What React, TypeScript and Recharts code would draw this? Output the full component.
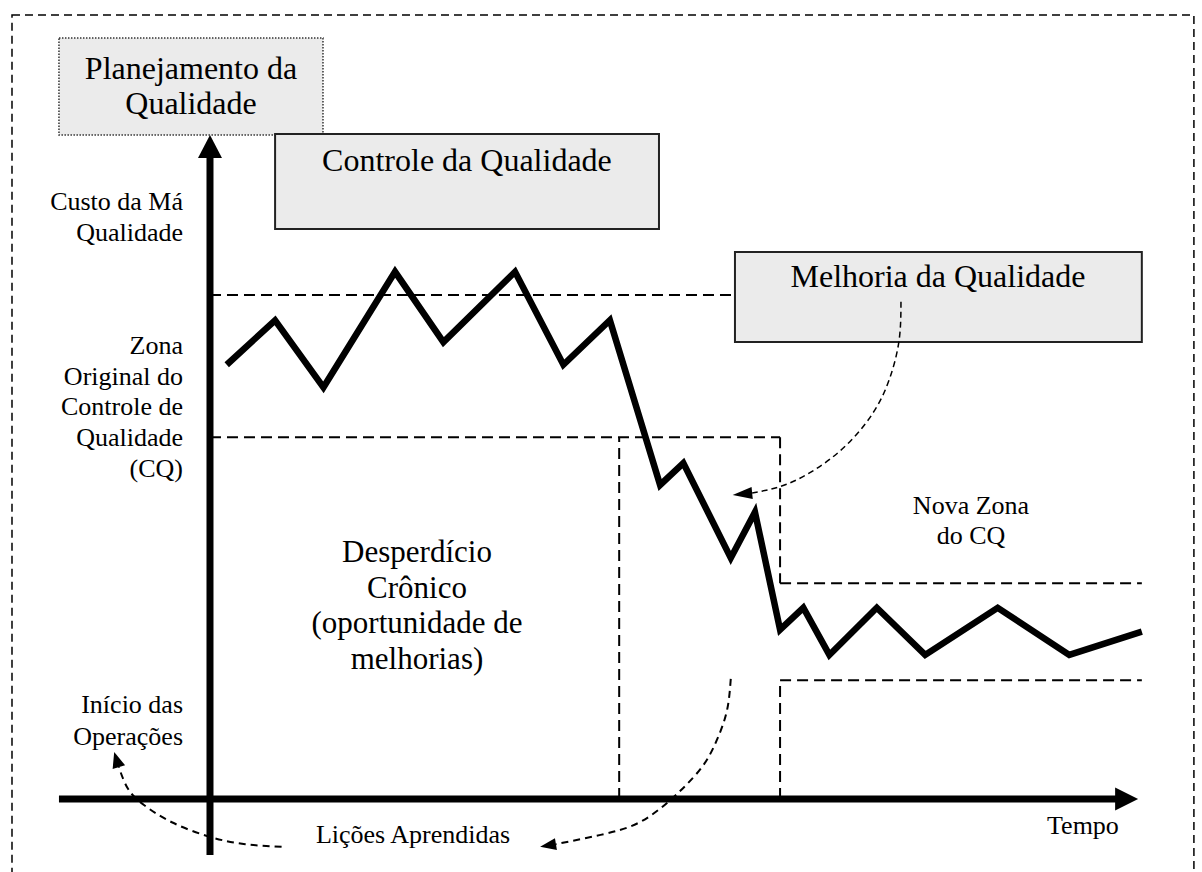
import React from 'react';
import { LineChart, Line, XAxis, YAxis, ReferenceLine, ReferenceArea, ReferenceDot } from 'recharts';

const W = 1202;
const H = 872;
const FONT = "'Liberation Serif', 'Times New Roman', serif";

// Value domains: time 0 at the cost axis, cost 0 at the time axis
const X_DOMAIN: [number, number] = [-22.58, 106.67];
const Y_DOMAIN: [number, number] = [-10.99, 120.33];

// Cost of poor quality over time
const timePoints = [1.8, 7.0, 12.2, 19.9, 25.1, 32.8, 38.0, 43.0, 48.4, 50.9, 56.0, 58.6, 61.3, 63.8, 66.6, 71.7, 76.9, 84.7, 92.4, 100.2];
const costValues = [65.4, 72.1, 62.0, 79.4, 68.8, 79.4, 65.4, 72.1, 47.3, 50.6, 36.3, 43.2, 25.5, 28.8, 21.7, 28.8, 21.7, 28.8, 21.7, 25.2];

// Control zones
const originalUpper = 75.9;
const originalLower = 54.5;
const newUpper = 32.5;
const newLower = 17.9;
const improvementStart = 44.0;
const improvementEnd = 61.3;
const upperLimitEnd = 56.45;
const timeEnd = 100.2;

// Curved arrows
const improvementT = [74.3, 74.1, 73.1, 71.5, 69.0, 65.8, 62.0, 58.3];
const improvementC = [74.9, 69.1, 63.4, 58.6, 54.1, 50.3, 47.4, 46.1];
const improvementTip = { t: 56.2, c: 45.8 };

const lessonsT = [56.0, 55.6, 54.6, 53.2, 51.4, 49.5, 46.2, 42.0, 37.2];
const lessonsC = [18.1, 13.4, 9.2, 5.4, 2.4, -0.15, -3.5, -5.4, -6.8];
const lessonsTip = { t: 35.5, c: -7.2 };

const startT = [7.7, 3.8, 0, -4.1, -7.1, -8.8, -9.8];
const startC = [-7.2, -6.8, -5.7, -3.5, -0.9, 1.5, 4.8];
const startTip = { t: -10.3, c: 7.1 };

const zip = (ts: number[], cs: number[]) => ts.map((t, i) => ({ t, c: cs[i] }));
const costData = zip(timePoints, costValues);
const improvementCurve = zip(improvementT, improvementC);
const lessonsCurve = zip(lessonsT, lessonsC);
const startCurve = zip(startT, startC);

const arrowShape = (shaft: number, len: number, half: number) => (p: any) => {
  const { x1, y1, x2, y2 } = p;
  const dx = x2 - x1;
  const dy = y2 - y1;
  const d = Math.hypot(dx, dy) || 1;
  const ux = dx / d;
  const uy = dy / d;
  const L = len > 0 ? len : d;
  const bx = x2 - ux * L;
  const by = y2 - uy * L;
  const nx = -uy;
  const ny = ux;
  return (
    <g>
      {shaft > 0 && (
        <line x1={x1} y1={y1} x2={bx + ux} y2={by + uy} stroke="#000" strokeWidth={shaft} />
      )}
      <polygon
        points={`${x2},${y2} ${bx + nx * half},${by + ny * half} ${bx - nx * half},${by - ny * half}`}
        fill="#000"
      />
    </g>
  );
};

const textShape = (lines: string[], size: number, anchor: 'start' | 'middle' | 'end', lh: number) => (p: any) => (
  <text x={p.cx} y={p.cy} fontSize={size} fontFamily={FONT} textAnchor={anchor} fill="#000">
    {lines.map((l, i) => (
      <tspan key={i} x={p.cx} dy={i === 0 ? 0 : lh}>
        {l}
      </tspan>
    ))}
  </text>
);

const dashed = { stroke: '#000', strokeWidth: 2, strokeDasharray: '11 6', ifOverflow: 'visible' as const };

export default function App() {
  return (
    <div style={{ position: 'absolute', left: 0, top: 0, width: W, height: H, background: '#fff' }}>
      <LineChart width={W} height={H} margin={{ top: 0, right: 0, bottom: 0, left: 0 }}>
        <XAxis dataKey="t" type="number" domain={X_DOMAIN} allowDataOverflow hide />
        <YAxis dataKey="c" type="number" domain={Y_DOMAIN} allowDataOverflow hide />

        {/* outer dashed frame */}
        <ReferenceArea
          x1={-21.29}
          x2={105.8}
          y1={-12.5}
          y2={118.07}
          fill="none"
          fillOpacity={0}
          stroke="#000"
          strokeWidth={1.5}
          strokeDasharray="8 5"
          ifOverflow="visible"
        />

        {/* boxes */}
        <ReferenceArea x1={-16.24} x2={12.15} y1={100} y2={114.6} fill="#ebebeb" fillOpacity={1} stroke="#333" strokeWidth={1.5} strokeDasharray="1.5 1.5" ifOverflow="visible" />
        <ReferenceArea x1={7.0} x2={48.28} y1={85.84} y2={100.15} fill="#ebebeb" fillOpacity={1} stroke="#222" strokeWidth={2} ifOverflow="visible" />
        <ReferenceArea x1={upperLimitEnd} x2={timeEnd} y1={68.83} y2={82.38} fill="#ebebeb" fillOpacity={1} stroke="#222" strokeWidth={2} ifOverflow="visible" />

        {/* zone limits */}
        <ReferenceLine segment={[{ x: 0, y: originalUpper }, { x: upperLimitEnd, y: originalUpper }]} {...dashed} />
        <ReferenceLine segment={[{ x: 0, y: originalLower }, { x: improvementEnd, y: originalLower }]} {...dashed} />
        <ReferenceLine segment={[{ x: improvementEnd, y: originalLower }, { x: improvementEnd, y: newUpper }]} {...dashed} />
        <ReferenceLine segment={[{ x: improvementEnd, y: newUpper }, { x: timeEnd, y: newUpper }]} {...dashed} />
        <ReferenceLine segment={[{ x: improvementEnd, y: newLower }, { x: timeEnd, y: newLower }]} {...dashed} />
        <ReferenceLine segment={[{ x: improvementEnd, y: 0 }, { x: improvementEnd, y: newLower }]} {...dashed} />
        <ReferenceLine segment={[{ x: improvementStart, y: 0 }, { x: improvementStart, y: originalLower }]} {...dashed} />

        {/* axes with arrows */}
        <ReferenceLine segment={[{ x: 0, y: -8.43 }, { x: 0, y: 100 }]} shape={arrowShape(7, 23, 12)} ifOverflow="visible" />
        <ReferenceLine segment={[{ x: -16.24, y: 0 }, { x: 99.8, y: 0 }]} shape={arrowShape(7, 23, 11.5)} ifOverflow="visible" />

        {/* curved dashed arrows */}
        <Line data={improvementCurve} dataKey="c" type="natural" stroke="#000" strokeWidth={1.5} strokeDasharray="6 4" dot={false} activeDot={false} isAnimationActive={false} />
        <ReferenceLine segment={[improvementCurve[improvementCurve.length - 1] && { x: 58.3, y: 46.1 }, { x: improvementTip.t, y: improvementTip.c }]} shape={arrowShape(0, 0, 6)} ifOverflow="visible" />
        <Line data={lessonsCurve} dataKey="c" type="natural" stroke="#000" strokeWidth={2} strokeDasharray="7 5" dot={false} activeDot={false} isAnimationActive={false} />
        <ReferenceLine segment={[{ x: 37.2, y: -6.8 }, { x: lessonsTip.t, y: lessonsTip.c }]} shape={arrowShape(0, 0, 6)} ifOverflow="visible" />
        <Line data={startCurve} dataKey="c" type="natural" stroke="#000" strokeWidth={2} strokeDasharray="7 5" dot={false} activeDot={false} isAnimationActive={false} />
        <ReferenceLine segment={[{ x: -9.8, y: 4.8 }, { x: startTip.t, y: startTip.c }]} shape={arrowShape(0, 0, 6.5)} ifOverflow="visible" />

        {/* main cost line */}
        <Line data={costData} dataKey="c" type="linear" stroke="#000" strokeWidth={6.5} strokeLinejoin="miter" dot={false} activeDot={false} isAnimationActive={false} />

        {/* texts */}
        <ReferenceDot x={-2.04} y={108.43} shape={textShape(['Planejamento da', 'Qualidade'], 32, 'middle', 35)} ifOverflow="visible" />
        <ReferenceDot x={27.63} y={94.58} shape={textShape(['Controle da Qualidade'], 32, 'middle', 35)} ifOverflow="visible" />
        <ReferenceDot x={78.28} y={77.11} shape={textShape(['Melhoria da Qualidade'], 32, 'middle', 35)} ifOverflow="visible" />
        <ReferenceDot x={-2.9} y={88.7} shape={textShape(['Custo da Má', 'Qualidade'], 26, 'end', 31)} ifOverflow="visible" />
        <ReferenceDot x={-2.9} y={67.02} shape={textShape(['Zona', 'Original do', 'Controle de', 'Qualidade', '(CQ)'], 26, 'end', 30.75)} ifOverflow="visible" />
        <ReferenceDot x={-2.9} y={12.95} shape={textShape(['Início das', 'Operações'], 26, 'end', 32)} ifOverflow="visible" />
        <ReferenceDot x={22.26} y={35.69} shape={textShape(['Desperdício', 'Crônico', '(oportunidade de', 'melhorias)'], 31, 'middle', 35.5)} ifOverflow="visible" />
        <ReferenceDot x={81.83} y={42.92} shape={textShape(['Nova Zona', 'do CQ'], 26, 'middle', 30)} ifOverflow="visible" />
        <ReferenceDot x={21.83} y={-6.63} shape={textShape(['Lições Aprendidas'], 26, 'middle', 30)} ifOverflow="visible" />
        <ReferenceDot x={93.87} y={-5.27} shape={textShape(['Tempo'], 26, 'middle', 30)} ifOverflow="visible" />
      </LineChart>
    </div>
  );
}
